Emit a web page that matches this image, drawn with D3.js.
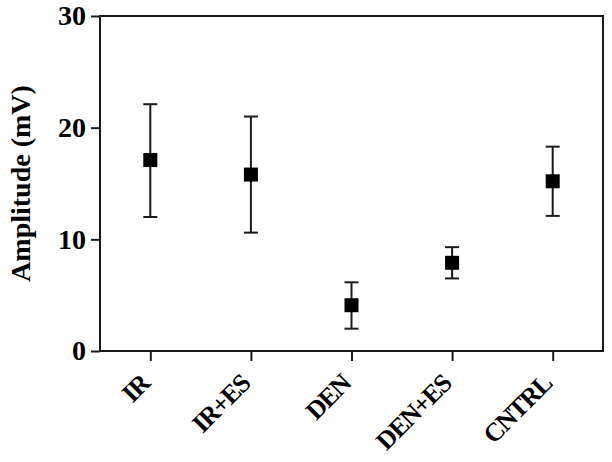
<!DOCTYPE html>
<html>
<head>
<meta charset="utf-8">
<script src="https://cdn.jsdelivr.net/npm/d3@7"></script>
<style>
  body { margin: 0; background: #fff; }
</style>
</head>
<body>
<div id="chart"></div>
<script>
// data
var groups = ["IR", "IR+ES", "DEN", "DEN+ES", "CNTRL"];
var means = [17.1, 15.8, 4.1, 7.9, 15.2];
var upper = [22.1, 21.0, 6.15, 9.3, 18.3];
var lower = [12.0, 10.6, 2.0, 6.5, 12.1];
var y_ticks = [0, 10, 20, 30];

var view_width = 612, view_height = 462;
var margin = {top: 16, bottom: 111, left: 100, right: 9};
var width = view_width - margin.left - margin.right;
var height = view_height - margin.top - margin.bottom;

var svg = d3.select("#chart")
    .append("svg")
        .attr("width", view_width)
        .attr("height", view_height)
        .style("font-family", "'Liberation Serif', 'Times New Roman', serif")
        .style("font-weight", "bold")
    .append("g")
        .attr("transform", "translate(" + margin.left + "," + margin.top + ")");

var x_scale = d3.scalePoint()
    .domain(groups)
    .range([0, width])
    .padding(0.5);
var y_scale = d3.scaleLinear()
    .domain([0, 30])
    .range([height, 0]);

var ink = "#1a1a1a";

// frame
svg.append("rect")
    .attr("x", 0).attr("y", 0)
    .attr("width", width).attr("height", height)
    .attr("fill", "none")
    .attr("stroke", ink)
    .attr("stroke-width", 2);

var y_axis = svg.append("g")
    .call(d3.axisLeft(y_scale).tickValues(y_ticks).tickSize(9).tickPadding(5));
var x_axis = svg.append("g")
    .attr("transform", "translate(0," + height + ")")
    .call(d3.axisBottom(x_scale).tickSize(10));

[y_axis, x_axis].forEach(function(a) {
    a.attr("font-family", null).attr("font-size", null);
    a.select(".domain").remove();
    a.selectAll("line").attr("stroke", ink).attr("stroke-width", 2);
});
y_axis.selectAll("text")
    .style("font-size", "28px")
    .attr("fill", "#000");

x_axis.selectAll("text")
    .style("font-size", "26px")
    .style("letter-spacing", "-1.3px")
    .attr("fill", "#000")
    .attr("text-anchor", "end")
    .attr("dy", 0)
    .attr("transform", "translate(-9,25)rotate(-45)");

svg.append("text")
    .attr("transform", "translate(-70," + height / 2 + ")rotate(-90)")
    .attr("text-anchor", "middle")
    .style("font-size", "28px")
    .text("Amplitude (mV)");

// error bars
var cap = 7;
var bars = svg.selectAll(".bar")
    .data(groups)
    .enter().append("g")
    .attr("class", "bar");

bars.append("line")
    .attr("x1", function(d) { return x_scale(d); })
    .attr("x2", function(d) { return x_scale(d); })
    .attr("y1", function(d, i) { return y_scale(upper[i]); })
    .attr("y2", function(d, i) { return y_scale(lower[i]); })
    .attr("stroke", ink).attr("stroke-width", 2);
bars.append("line")
    .attr("x1", function(d) { return x_scale(d) - cap; })
    .attr("x2", function(d) { return x_scale(d) + cap; })
    .attr("y1", function(d, i) { return y_scale(upper[i]); })
    .attr("y2", function(d, i) { return y_scale(upper[i]); })
    .attr("stroke", ink).attr("stroke-width", 2);
bars.append("line")
    .attr("x1", function(d) { return x_scale(d) - cap; })
    .attr("x2", function(d) { return x_scale(d) + cap; })
    .attr("y1", function(d, i) { return y_scale(lower[i]); })
    .attr("y2", function(d, i) { return y_scale(lower[i]); })
    .attr("stroke", ink).attr("stroke-width", 2);
bars.append("rect")
    .attr("x", function(d) { return x_scale(d) - 7; })
    .attr("y", function(d, i) { return y_scale(means[i]) - 7; })
    .attr("width", 14)
    .attr("height", 14)
    .attr("fill", "#000");
</script>
</body>
</html>
